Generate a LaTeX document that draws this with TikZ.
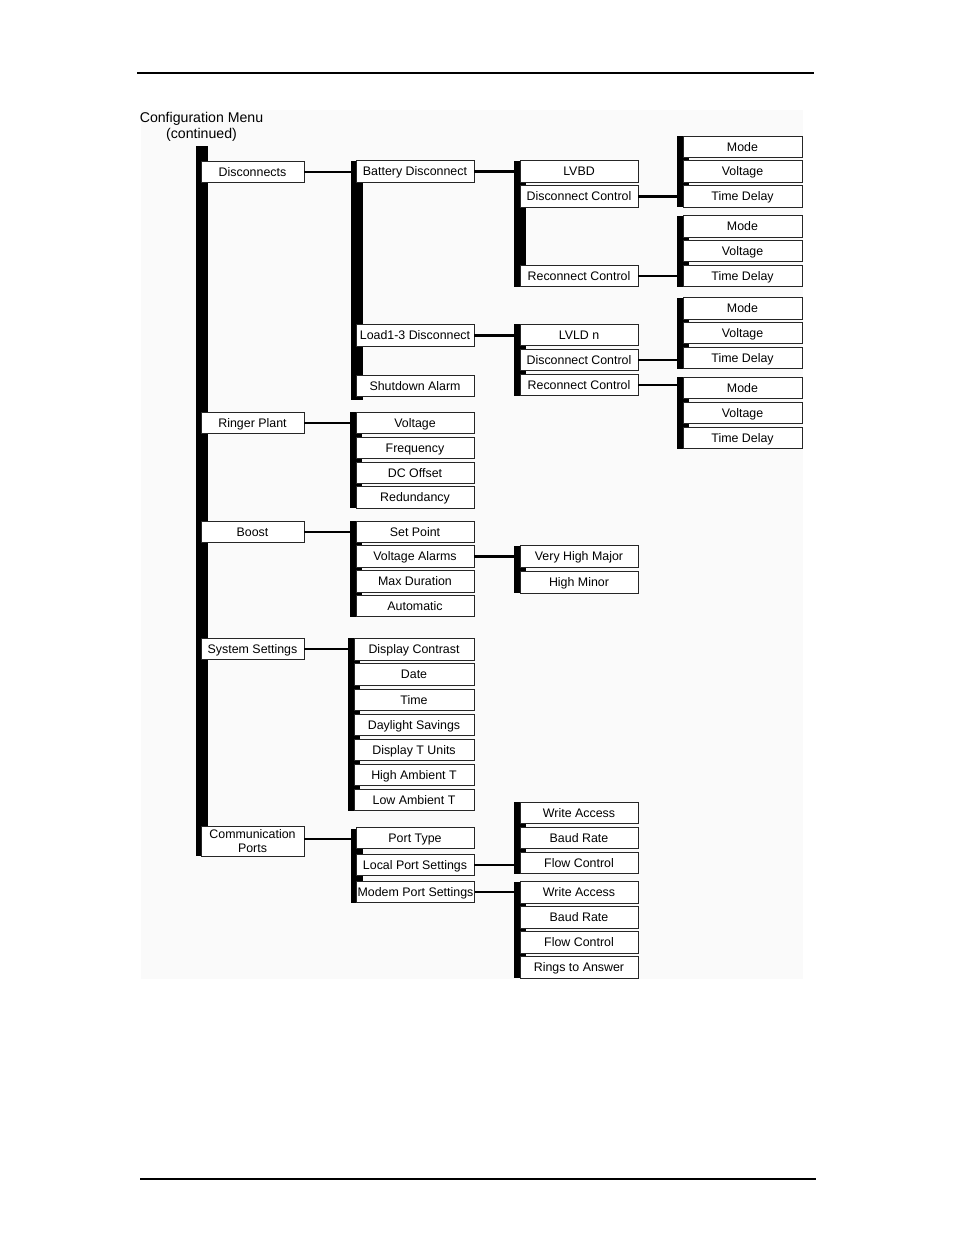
\documentclass[tikz,border=0pt]{standalone}
\usepackage{fontspec}
\setmainfont{Liberation Sans}
\begin{document}
\begin{tikzpicture}[x=0.75pt,y=-0.75pt,
  bx/.style={draw=black!85, line width=0.7pt, fill=white, inner sep=0pt, outer sep=0pt,
    minimum height=16.1pt, font=\fontsize{9.3}{10.5}\selectfont, align=center},
  tx/.style={bx, text height=8.4pt, text depth=1.8pt},
  wa/.style={tx, minimum width=77.25pt},
  wb/.style={tx, minimum width=88.5pt},
  wbs/.style={tx, minimum width=90pt},
  wc/.style={tx, minimum width=88.5pt},
  wd/.style={tx, minimum width=89.25pt},
  barr/.style={fill=black, draw=none, inner sep=0pt, outer sep=0pt, minimum width=9pt, anchor=north west},
  conn/.style={line width=1.9pt}]
\newcommand{\mybar}[4]{\node[barr, minimum height={(#4-#3)*0.75pt}] (#1) at (#2,#3) {};}
\useasboundingbox (0,0) rectangle (954,1235);
\fill[white] (0,0) rectangle (954,1235);
\fill[black!2] (141,110) rectangle (803,979);
% page rules
\draw[line width=1.1pt] (137,73) -- (814,73);
\draw[line width=1.1pt] (140,1179) -- (816,1179);
% title
\node[font=\fontsize{10.6}{12}\selectfont, align=center] (title) at (201.5,126.5) {Configuration Menu\\(continued)};
% bars
\mybar{bA}{196}{146}{856}
\mybar{bDisc}{351}{161}{400}
\mybar{bRing}{350}{412}{508}
\mybar{bBoost}{350}{521}{617}
\mybar{bSys}{348}{638}{811}
\mybar{bComm}{351}{829}{903}
\mybar{bBatt}{514}{161}{287}
\mybar{bLoad}{514}{324}{396}
\mybar{bVal}{514}{546}{593}
\mybar{bLps}{514}{802}{874}
\mybar{bMps}{514}{882}{978}
\mybar{bG1}{677}{136}{207}
\mybar{bG2}{677}{216}{287}
\mybar{bG3}{677}{298}{369}
\mybar{bG4}{677}{377}{449}
% level 1
\node[wa] (disc) at (252.5,172) {Disconnects};
\node[wa] (ring) at (252.5,423) {Ringer Plant};
\node[wa] (boost) at (252.5,532) {Boost};
\node[wa] (sys) at (252.5,649) {System Settings};
\node[bx, minimum width=77.25pt, minimum height=22.5pt] (comm) at (252.5,841) {Communication\\Ports};
% level 2
\node[wb] (batt) at (415,171.5) {Battery Disconnect};
\node[wb] (load) at (415,335.5) {Load1-3 Disconnect};
\node[wb] (shut) at (415,386) {Shutdown Alarm};
\node[wb] (rvolt) at (415,423) {Voltage};
\node[wb] (freq) at (415,448) {Frequency};
\node[wb] (dcoff) at (415,473) {DC Offset};
\node[wb] (redund) at (415,497.5) {Redundancy};
\node[wb] (setp) at (415,532) {Set Point};
\node[wb] (valarm) at (415,556.5) {Voltage Alarms};
\node[wb] (maxdur) at (415,581.5) {Max Duration};
\node[wb] (auto) at (415,606) {Automatic};
\node[wbs] (dcontr) at (414,649.5) {Display Contrast};
\node[wbs] (date) at (414,674.5) {Date};
\node[wbs] (time) at (414,700) {Time};
\node[wbs] (dls) at (414,725) {Daylight Savings};
\node[wbs] (dtu) at (414,750) {Display T Units};
\node[wbs] (hat) at (414,775) {High Ambient T};
\node[wbs] (lat) at (414,800) {Low Ambient T};
\node[wb] (ptype) at (415,838) {Port Type};
\node[wb] (lps) at (415,865) {Local Port Settings};
\node[wb] (mps) at (415.5,892) {Modem Port Settings};
% level 3
\node[wc] (lvbd) at (579,171.5) {LVBD};
\node[wc] (dc1) at (579,196.5) {Disconnect Control};
\node[wc] (rc1) at (579,276) {Reconnect Control};
\node[wc] (lvld) at (579,335) {LVLD n};
\node[wc] (dc2) at (579,360) {Disconnect Control};
\node[wc] (rc2) at (579,385) {Reconnect Control};
\node[wc] (vhm) at (579,556.5) {Very High Major};
\node[wc] (hm) at (579,582.5) {High Minor};
\node[wc] (wa1) at (579,813) {Write Access};
\node[wc] (br1) at (579,838) {Baud Rate};
\node[wc] (fc1) at (579,863) {Flow Control};
\node[wc] (wa2) at (579,892.5) {Write Access};
\node[wc] (br2) at (579,917.5) {Baud Rate};
\node[wc] (fc2) at (579,942.5) {Flow Control};
\node[wc] (rta) at (579,967.5) {Rings to Answer};
% level 4
\node[wd] (m1) at (742.5,147) {Mode};
\node[wd] (v1) at (742.5,171.5) {Voltage};
\node[wd] (t1) at (742.5,196.5) {Time Delay};
\node[wd] (m2) at (742.5,226.5) {Mode};
\node[wd] (v2) at (742.5,251) {Voltage};
\node[wd] (t2) at (742.5,276) {Time Delay};
\node[wd] (m3) at (742.5,308.5) {Mode};
\node[wd] (v3) at (742.5,333) {Voltage};
\node[wd] (t3) at (742.5,358) {Time Delay};
\node[wd] (m4) at (742.5,388) {Mode};
\node[wd] (v4) at (742.5,413) {Voltage};
\node[wd] (t4) at (742.5,438) {Time Delay};
% connectors
\draw[conn] (disc.east) -- (disc.east -| bDisc.west);
\draw[conn] (ring.east) -- (ring.east -| bRing.west);
\draw[conn] (boost.east) -- (boost.east -| bBoost.west);
\draw[conn] (sys.east) -- (sys.east -| bSys.west);
\draw[conn] ([yshift=1.5pt]comm.east) -- ([yshift=1.5pt]comm.east -| bComm.west);
\draw[conn] (batt.east) -- (batt.east -| bBatt.west);
\draw[conn] (load.east) -- (load.east -| bLoad.west);
\draw[conn] (valarm.east) -- (valarm.east -| bVal.west);
\draw[conn] (lps.east) -- (lps.east -| bLps.west);
\draw[conn] (mps.east) -- (mps.east -| bMps.west);
\draw[conn] (dc1.east) -- (dc1.east -| bG1.west);
\draw[conn] (rc1.east) -- (rc1.east -| bG2.west);
\draw[conn] (dc2.east) -- (dc2.east -| bG3.west);
\draw[conn] (rc2.east) -- (rc2.east -| bG4.west);
\end{tikzpicture}
\end{document}
